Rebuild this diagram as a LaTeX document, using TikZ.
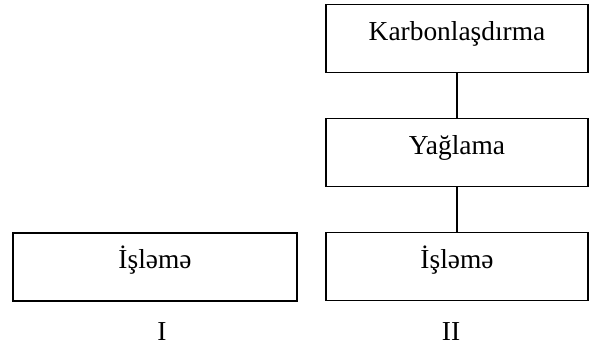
\documentclass[tikz,border=0pt]{standalone}
\usepackage{fontspec}
\setmainfont{Liberation Serif}
\usetikzlibrary{positioning}

\begin{document}
\begin{tikzpicture}[x=0.5pt, y=-0.5pt, stage/.style={rectangle,draw,line width=0.9pt,inner sep=0pt,outer sep=0pt,minimum height=34pt,text height=8pt,text depth=6pt}, font=\fontsize{13.7}{16}\selectfont, node distance=23pt]
        \useasboundingbox (0,0) rectangle (600,351);
        \node[stage, minimum width=142pt] (isl1) at (155,267) {İşləmə};
        \node[stage, minimum width=131pt] (karb) at (457,38.5) {Karbonlaşdırma};
        \node[stage, minimum width=131pt, below=of karb] (yagl) {Yağlama};
        \node[stage, minimum width=131pt, below=of yagl] (isl2) {İşləmə};
        \node (n1) at (162,332) {I};
        \node (n2) at (451,332) {II};

        \draw[line width=0.9pt] (karb) -- (yagl);
        \draw[line width=0.9pt] (yagl) -- (isl2);
\end{tikzpicture}
\end{document}
